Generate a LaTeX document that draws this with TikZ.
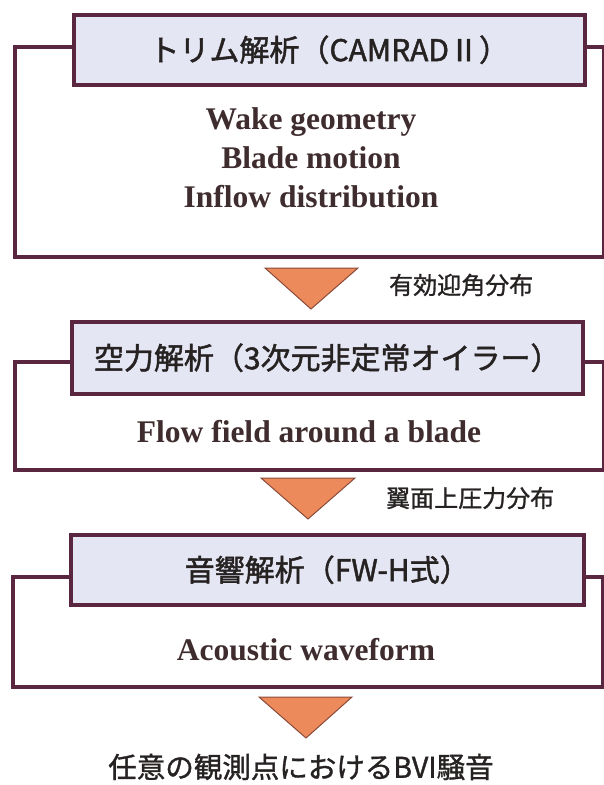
\documentclass[tikz,border=0pt]{standalone}
\usepackage{fontspec}
\setmainfont{Liberation Serif}
\newfontfamily\jp[FakeBold=1.6]{Noto Sans CJK JP}
\newfontfamily\jplight[FakeBold=1.2]{Noto Sans CJK JP}
\definecolor{frameC}{HTML}{5B2740}
\definecolor{hdrC}{HTML}{E4E6F3}
\definecolor{triC}{HTML}{EC8A5C}
\definecolor{triD}{HTML}{8A4A38}
\definecolor{engC}{HTML}{3E2C2E}
\definecolor{jpC}{HTML}{262222}
\tikzset{
  frame/.style={draw=frameC, line width=3.5pt, fill=white, rectangle, inner sep=0pt, anchor=north west},
  header/.style={draw=frameC, line width=3.5pt, fill=hdrC, rectangle, inner sep=0pt, anchor=north west,
    font=\jp\fontsize{30}{34}\selectfont, text=jpC},
  eng/.style={font=\bfseries\fontsize{31.5}{39}\selectfont, text=engC, align=center, inner sep=0pt},
  lbl/.style={font=\jplight\fontsize{24}{26}\selectfont, text=jpC, anchor=west, inner sep=0pt},
  tri/.style={fill=triC, draw=triD, line width=1pt, line join=miter}
}
\begin{document}
\begin{tikzpicture}[x=1pt, y=-1pt]
\useasboundingbox (0,0) rectangle (604,785);
% block 1
\node[frame, minimum width=589pt, minimum height=210pt] (f1) at (13,45) {};
\node[header, minimum width=511pt, minimum height=70pt] (h1) at (72,13) {トリム解析（CAMRADⅡ）};
\node[eng] (t1) at (311,158) {Wake geometry\\Blade motion\\Inflow distribution};
% arrow 1
\draw[tri] (265,268) -- (358,268) -- (311,309) -- cycle;
\node[lbl] (l1) at (389,285) {有効迎角分布};
% block 2
\node[frame, minimum width=589pt, minimum height=108pt] (f2) at (13,360) {};
\node[header, minimum width=511pt, minimum height=72pt] (h2) at (70,320) {空力解析（3次元非定常オイラー）};
\node[eng] (t2) at (309,432) {Flow field around a blade};
% arrow 2
\draw[tri] (261,478) -- (355,478) -- (308,519) -- cycle;
\node[lbl] (l2) at (386,498) {翼面上圧力分布};
% block 3
\node[frame, minimum width=590pt, minimum height=110pt] (f3) at (11,575) {};
\node[header, minimum width=513pt, minimum height=70pt] (h3) at (69,533) {音響解析（FW-H式）};
\node[eng] (t3) at (306,650) {Acoustic waveform};
% arrow 3
\draw[tri] (259,697) -- (352,697) -- (306,738) -- cycle;
\node[font=\jplight\fontsize{28.5}{30}\selectfont, text=jpC, inner sep=0pt] (out) at (301,767) {任意の観測点におけるBVI騒音};
\end{tikzpicture}
\end{document}
